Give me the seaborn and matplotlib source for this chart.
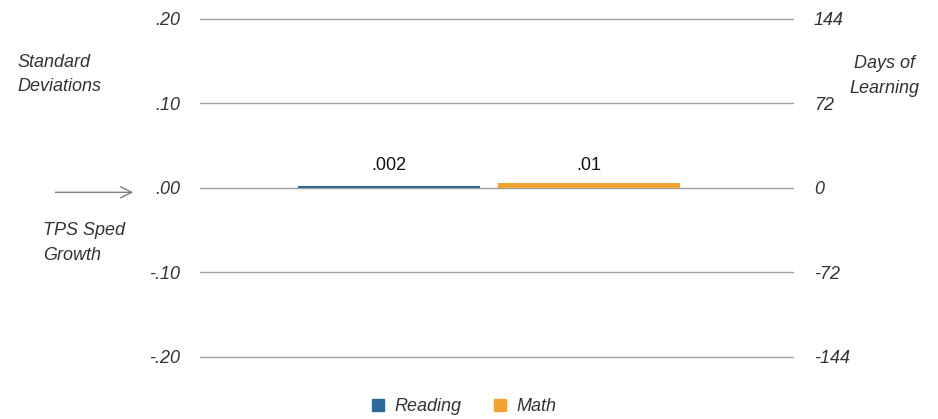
import matplotlib
matplotlib.use("Agg")
import matplotlib.pyplot as plt
import pandas as pd
import seaborn as sns

# data
subjects = ["Reading", "Math"]
effect_sd = [0.002, 0.006]
value_labels = [".002", ".01"]
sd_ticks = [-0.20, -0.10, 0.00, 0.10, 0.20]
sd_tick_labels = ["-.20", "-.10", ".00", ".10", ".20"]
day_ticks = [-144, -72, 0, 72, 144]
day_tick_labels = ["-144", "-72", "0", "72", "144"]
colors = ["#2c6a9a", "#f2a230"]

sns.set_theme(style="white")
plt.rcParams["font.family"] = ["Liberation Sans", "DejaVu Sans"]

TXT = "#333333"
FS = 13

df = pd.DataFrame({"group": ["TPS"] * len(subjects), "subject": subjects, "value": effect_sd})

fig = plt.figure(figsize=(9.38, 4.19), dpi=100)
ax = fig.add_axes([0.2132, 0.148, 0.6322, 0.8067])

sns.barplot(data=df, x="group", y="value", hue="subject", palette=colors,
            saturation=1, width=0.674, gap=0.09, linewidth=0,
            ax=ax, legend=False, zorder=3)

ax.set_ylim(-0.2, 0.2)
ax.set_xlim(-0.4874, 0.5126)
ax.set_yticks(sd_ticks)
ax.set_yticklabels(sd_tick_labels, fontsize=FS, style="italic", color=TXT)
ax.yaxis.grid(True, color="#a0a0a0", linewidth=1)
for gl in ax.get_ygridlines():
    gl.set_clip_on(False)
ax.set_axisbelow(True)
ax.tick_params(axis="y", length=0, pad=14)
ax.set_xticks([])
ax.set_xlabel("")
ax.set_ylabel("")
for s in ax.spines.values():
    s.set_visible(False)

# value labels above bars
for patch, lab in zip(ax.patches, value_labels):
    ax.text(patch.get_x() + patch.get_width() / 2, 0.016, lab,
            ha="center", va="bottom", fontsize=FS, color="#111111")

ax2 = ax.twinx()
ax2.set_ylim(-144, 144)
ax2.set_yticks(day_ticks)
ax2.set_yticklabels(day_tick_labels, fontsize=FS, style="italic", color=TXT)
ax2.tick_params(axis="y", length=0, pad=15)
for s in ax2.spines.values():
    s.set_visible(False)

# side annotations
fig.text(0.019, 0.822, "Standard\nDeviations", fontsize=FS, style="italic",
         color=TXT, ha="left", va="center", linespacing=1.55)
fig.text(0.943, 0.818, "Days of\nLearning", fontsize=FS, style="italic",
         color=TXT, ha="center", va="center", linespacing=1.65)
fig.text(0.046, 0.42, "TPS Sped\nGrowth", fontsize=FS, style="italic",
         color=TXT, ha="left", va="center", linespacing=1.65)
fig.add_artist(matplotlib.patches.FancyArrowPatch(
    (0.056, 0.541), (0.145, 0.541), transform=fig.transFigure,
    arrowstyle="->", mutation_scale=20, color="#808080", linewidth=1))

# legend
handles = [matplotlib.patches.Patch(color=c, label=s) for c, s in zip(colors, subjects)]
leg = fig.legend(handles=handles, loc="lower center", bbox_to_anchor=(0.495, -0.03),
                 ncol=2, frameon=False, handlelength=0.65, handleheight=0.65,
                 handletextpad=0.6, columnspacing=1.8,
                 prop={"size": FS, "style": "italic"})
for t in leg.get_texts():
    t.set_color(TXT)

fig.savefig("out.png", dpi=100)
